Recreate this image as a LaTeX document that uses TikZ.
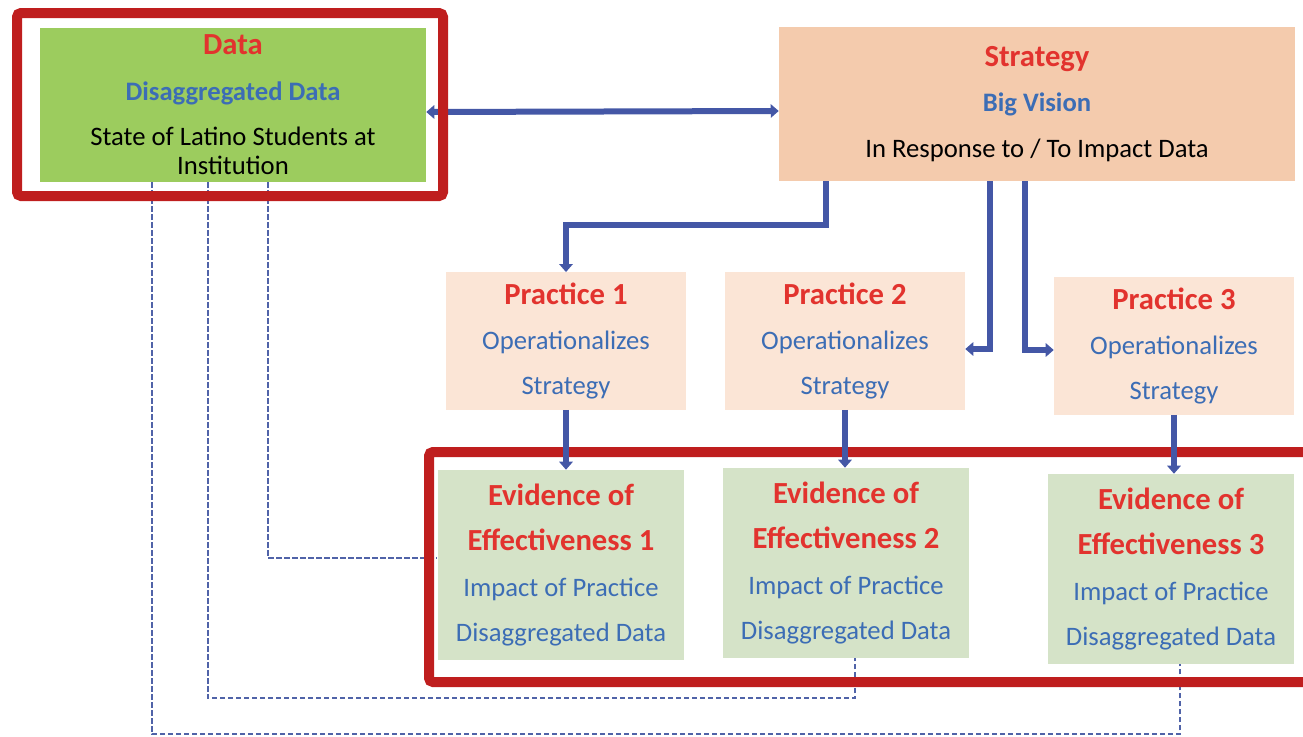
\documentclass[tikz,border=0pt]{standalone}
\usepackage{fontspec}
\setmainfont{Carlito}
\usepackage{xcolor}
\usepackage{tikz}
\usetikzlibrary{arrows.meta,calc}
\definecolor{FrameRed}{HTML}{BF1E1E}
\definecolor{TitleRed}{HTML}{E2332E}
\definecolor{TextBlue}{HTML}{3C6DB5}
\definecolor{ArrowBlue}{HTML}{4457A6}
\definecolor{DashBlue}{HTML}{5063A8}
\definecolor{DataGreen}{HTML}{9CCC5E}
\definecolor{StratPeach}{HTML}{F4CBAD}
\definecolor{PracPeach}{HTML}{FBE5D6}
\definecolor{EvidGreen}{HTML}{D5E3C8}

\tikzset{
  box/.style={inner sep=0pt, align=center, font=\fontsize{20}{34}\selectfont},
  databox/.style={box, fill=DataGreen, minimum width=289.5pt, minimum height=115.5pt},
  stratbox/.style={box, fill=StratPeach, minimum width=387pt, minimum height=115.5pt},
  pracbox/.style={box, fill=PracPeach, minimum width=180pt, minimum height=103pt},
  evidbox/.style={box, fill=EvidGreen, minimum width=185pt, minimum height=142.5pt},
  flow/.style={ArrowBlue, line width=4.5pt, -{Triangle[width=10pt,length=6pt]}},
  link/.style={DashBlue, line width=1.6pt, dash pattern=on 4pt off 2pt},
  frame/.style={FrameRed, line width=7.5pt, rounded corners=3pt}
}
\newcommand{\boxtitle}[1]{{\fontsize{23}{34}\selectfont\bfseries\color{TitleRed}#1}}
\newcommand{\bluetext}[1]{{\color{TextBlue}#1}}

\begin{document}
\begin{tikzpicture}[x=0.75pt,y=-0.75pt]
  \useasboundingbox (0,0) rectangle (1303,736);

  % top row
  \node[databox] (data) at (233,105) {\boxtitle{Data}\\
    \bluetext{\bfseries Disaggregated Data}\\
    State of Latino Students at\\[-12pt] Institution};
  \node[stratbox] (strategy) at (1037,104) {\boxtitle{Strategy}\\
    \bluetext{\bfseries Big Vision}\\ In Response to / To Impact Data};

  % practices
  \node[pracbox] (prac1) at (566,341) {\boxtitle{Practice 1}\\ \bluetext{Operationalizes}\\ \bluetext{Strategy}};
  \node[pracbox] (prac2) at (845,341) {\boxtitle{Practice 2}\\ \bluetext{Operationalizes}\\ \bluetext{Strategy}};
  \node[pracbox] (prac3) at (1174,346) {\boxtitle{Practice 3}\\ \bluetext{Operationalizes}\\ \bluetext{Strategy}};

  % evidence
  \node[evidbox] (evid1) at (561,565) {\boxtitle{Evidence of}\\ \boxtitle{Effectiveness 1}\\
    \bluetext{Impact of Practice}\\ \bluetext{Disaggregated Data}};
  \node[evidbox] (evid2) at (846,563) {\boxtitle{Evidence of}\\ \boxtitle{Effectiveness 2}\\
    \bluetext{Impact of Practice}\\ \bluetext{Disaggregated Data}};
  \node[evidbox] (evid3) at (1171,569) {\boxtitle{Evidence of}\\ \boxtitle{Effectiveness 3}\\
    \bluetext{Impact of Practice}\\ \bluetext{Disaggregated Data}};

  % dashed feedback lines
  \draw[link] ($(data.south)+(-81,0)$) -- ++(0,552) -| ($(evid3.south)+(9,0)$);
  \draw[link] ($(data.south)+(-25,0)$) -- ++(0,516) -| ($(evid2.south)+(9,0)$);
  \draw[link] ($(data.south)+(35,0)$) |- ($(evid1.west)+(0,-7)$);

  \draw[ArrowBlue, line width=4.5pt, {Triangle[width=10pt,length=6pt]}-{Triangle[width=10pt,length=6pt]}]
    ($(data.east)+(0,7)$) -- ($(strategy.west)+(0,7)$);

  % red frames
  \draw[frame] (17,13) rectangle (443,196);
  \draw[frame] (1310,452) -- (429,452) -- (429,682) -- (1310,682);

  % strategy to practices
  \draw[flow] ($(strategy.south)+(-211,0)$) -- ++(0,44) -| (prac1.north);
  \draw[flow] ($(strategy.south)+(-47,0)$) |- ($(prac2.east)+(0,8)$);
  \draw[flow] ($(strategy.south)+(-12,0)$) |- ($(prac3.west)+(0,4)$);

  % practices to evidence
  \draw[flow] (prac1.south) -- (prac1.south |- evid1.north);
  \draw[flow] (prac2.south) -- (prac2.south |- evid2.north);
  \draw[flow] (prac3.south) -- (prac3.south |- evid3.north);
\end{tikzpicture}
\end{document}
